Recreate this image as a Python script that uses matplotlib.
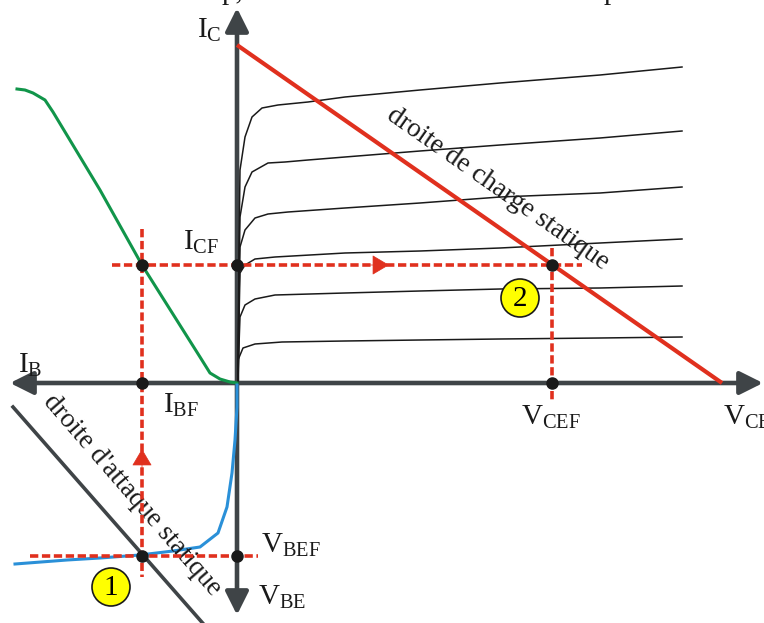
import matplotlib
matplotlib.use('Agg')
import matplotlib.pyplot as plt
from matplotlib.patches import Circle

plt.rcParams['font.family'] = ['Liberation Serif', 'DejaVu Serif']
plt.rcParams['mathtext.fontset'] = 'custom'
plt.rcParams['mathtext.rm'] = 'Liberation Serif'

# ================== data (diagram units, origin = axes crossing) ==================
# output characteristics IC = f(VCE), one curve per IB
vce_c1 = [1, 2, 3, 8, 15, 25, 41, 71, 108, 183, 263, 363, 445]
ic_c1  = [0, 133, 213, 246, 266, 275, 278, 281, 286, 293, 300, 308, 316]
vce_c2 = [1, 2, 3, 8, 15, 31, 48, 71, 108, 183, 263, 363, 445]
ic_c2  = [0, 103, 166, 196, 211, 220, 221, 223, 226, 232, 238, 245, 252]
vce_c3 = [1, 2, 3, 8, 18, 31, 51, 108, 183, 263, 363, 445]
ic_c3  = [0, 83, 136, 153, 165, 169, 171, 175, 180, 186, 190, 196]
vce_c4 = [1, 2, 3, 8, 18, 38, 108, 183, 263, 363, 445]
ic_c4  = [0, 63, 110, 118, 124, 126, 130, 132, 135, 140, 144]
vce_c5 = [1, 2, 3, 8, 18, 38, 108, 183, 263, 363, 445]
ic_c5  = [0, 38, 66, 78, 84, 88, 90, 92, 94, 95, 97]
vce_c6 = [1, 1, 6, 18, 45, 108, 183, 263, 363, 445]
ic_c6  = [0, 23, 35, 39, 41, 42, 43, 44, 45, 46]
curves = [(vce_c1, ic_c1), (vce_c2, ic_c2), (vce_c3, ic_c3),
          (vce_c4, ic_c4), (vce_c5, ic_c5), (vce_c6, ic_c6)]

# transfer IC = f(IB)  (IB drawn to the left)
ib_tr = [-220, -212, -204, -192, -184, -137, -95, -37, -27, -17, -7, 0]
ic_tr = [294, 293, 290, 283, 271, 193, 118, 26, 10, 4, 1, 0]

# input VBE = f(IB)  (VBE drawn downwards)
ib_in  = [0, 0, -2, -5, -10, -19, -37, -64, -97, -137, -170, -222]
vbe_in = [-2, -24, -57, -90, -124, -150, -164, -168, -172, -175, -177, -181]

# load lines
load_vce = [0, 485]
load_ic  = [338, 0]
att_ib   = [-224, -23]
att_vbe  = [-24, -253]

# operating point
ib_f, ic_f, vce_f, vbe_f = -95, 118, 315, -173

# ================== figure ==================
fig = plt.figure(figsize=(7.64, 6.23), dpi=100)
ax = fig.add_axes([0, 0, 1, 1])
ax.set_xlim(-237, 527)
ax.set_ylim(-240, 383)
ax.axis('off')

AX_COL = '#3f4447'
RED = '#e0301e'

# axes with arrows
arr = dict(arrowstyle='<|-|>,head_length=14,head_width=7', mutation_scale=1,
           color=AX_COL, lw=3.3, shrinkA=0, shrinkB=0)
ax.annotate('', xy=(0, 375), xytext=(0, -232), arrowprops=arr, zorder=1)
ax.annotate('', xy=(526, 0), xytext=(-227, 0), arrowprops=arr, zorder=1)

# characteristic curves
for vce, ic in curves:
    ax.plot(vce, ic, color='#1a1a1a', lw=1.1, zorder=2)
ax.plot(ib_tr, ic_tr, color='#11954a', lw=2.2, zorder=2)
ax.plot(ib_in, vbe_in, color='#2a90d8', lw=2.2, zorder=2)

# load lines
ax.plot(load_vce, load_ic, color=RED, lw=3.0, zorder=3, solid_capstyle='butt')
ax.plot(att_ib, att_vbe, color=AX_COL, lw=2.6, zorder=3)

# dashed projections
dash = dict(color=RED, lw=2.6, ls=(0, (2.3, 1.0)), zorder=4)
ax.plot([-125, 345], [ic_f, ic_f], **dash)
ax.plot([ib_f, ib_f], [154, -194], **dash)
ax.plot([vce_f, vce_f], [135, -19], **dash)
ax.plot([-207, 21], [vbe_f, vbe_f], **dash)

head = dict(arrowstyle='-|>,head_length=11,head_width=6.5', mutation_scale=1,
            color=RED, lw=0.5, shrinkA=0, shrinkB=0)
ax.annotate('', xy=(152, ic_f), xytext=(130, ic_f), arrowprops=head, zorder=5)
ax.annotate('', xy=(ib_f, -66), xytext=(ib_f, -90), arrowprops=head, zorder=5)

# points
pts_x = [ib_f, 0, vce_f, ib_f, vce_f, ib_f, 0]
pts_y = [ic_f, ic_f, ic_f, 0, 0, vbe_f, vbe_f]
ax.plot(pts_x, pts_y, 'o', color='#1a1a1a', ms=8, zorder=6)

# numbered markers
for (cx, cy), num in [((-126, -204), '1'), ((283, 85), '2')]:
    ax.add_patch(Circle((cx, cy), 19, facecolor='#ffff00', edgecolor='#1a1a1a',
                        lw=1.2, zorder=7))
    ax.text(cx, cy - 1, num, fontsize=21, ha='center', va='center', zorder=8)

# labels
fs = 21
labels = [
    ((-40, 345), r'$\mathregular{I_C}$'),
    ((-54, 133), r'$\mathregular{I_{CF}}$'),
    ((-219, 10), r'$\mathregular{I_B}$'),
    ((-74, -30), r'$\mathregular{I_{BF}}$'),
    ((284, -42), r'$\mathregular{V_{CEF}}$'),
    ((486, -42), r'$\mathregular{V_{CE}}$'),
    ((24, -170), r'$\mathregular{V_{BEF}}$'),
    ((21, -222), r'$\mathregular{V_{BE}}$'),
]
for (x, y), s in labels:
    ax.text(x, y, s, fontsize=fs, ha='left', va='baseline', color='#1a1a1a', zorder=9)

ax.text(261, 194, 'droite de charge statique', fontsize=19.5, rotation=-35,
        rotation_mode='anchor', ha='center', va='center', color='#1a1a1a')
ax.text(-105, -112, "droite d'attaque statique", fontsize=19.5, rotation=-49,
        rotation_mode='anchor', ha='center', va='center', color='#1a1a1a')

# cut-off line of text above the figure
ax.text(-15, 384, 'p,', fontsize=21, ha='left', va='baseline', color='#1a1a1a')
ax.text(367, 384, 'p', fontsize=21, ha='left', va='baseline', color='#1a1a1a')

fig.savefig('out.png', dpi=100)
